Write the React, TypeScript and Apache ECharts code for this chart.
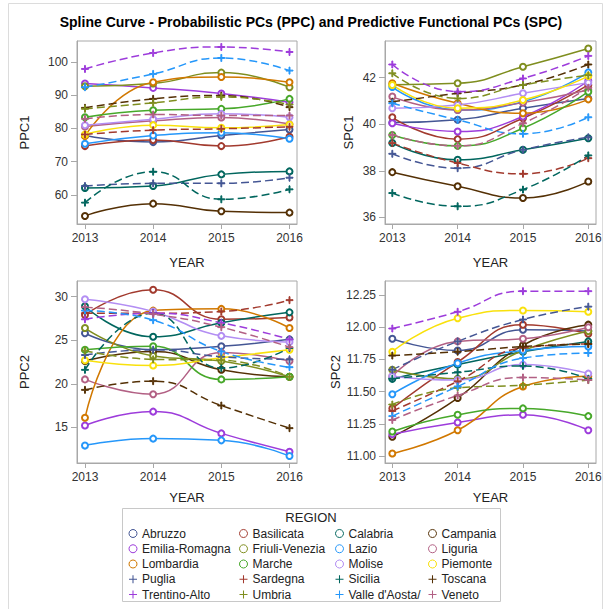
import React, { useEffect, useRef } from "react";
import * as echarts from "echarts";

const YEARS = [2013, 2014, 2015, 2016];

const REGIONS = [
  "Abruzzo", "Basilicata", "Calabria", "Campania",
  "Emilia-Romagna", "Friuli-Venezia", "Lazio", "Liguria",
  "Lombardia", "Marche", "Molise", "Piemonte",
  "Puglia", "Sardegna", "Sicilia", "Toscana",
  "Trentino-Alto", "Umbria", "Valle d'Aosta/", "Veneto",
];

const COLORS = [
  "#445694", "#A23A2E", "#01665E", "#543005", "#9D3CDB", "#7F8E1F",
  "#2597FA", "#B26084", "#D17800", "#47A82A", "#B38EF3", "#F9E10C",
];

// values per region (same order as REGIONS), years 2013..2016
const PPC1 = [
  [77.9, 75.9, 77.9, 79.7],
  [74.7, 76.5, 74.7, 77.5],
  [62.1, 62.7, 66.2, 67.1],
  [53.7, 57.4, 55.1, 54.7],
  [93.5, 92.2, 90.5, 87.9],
  [92.7, 93.5, 96.8, 92.4],
  [75.4, 77.9, 78.7, 76.9],
  [80.6, 82.3, 83.3, 81.3],
  [77.7, 93.9, 95.5, 93.9],
  [83.4, 85.5, 85.9, 88.9],
  [81.0, 82.8, 84.4, 83.4],
  [78.2, 81.0, 80.2, 81.2],
  [62.7, 63.5, 63.5, 65.2],
  [78.2, 79.5, 79.9, 80.5],
  [57.7, 67.0, 58.7, 61.7],
  [86.2, 88.9, 89.9, 86.4],
  [97.9, 102.7, 104.5, 103.0],
  [85.9, 87.7, 89.5, 87.2],
  [92.4, 96.4, 101.2, 97.4],
  [82.9, 84.2, 83.9, 83.9],
];

const SPC1 = [
  [40.07, 40.19, 40.69, 41.11],
  [40.3, 39.36, 40.26, 41.69],
  [39.19, 38.47, 38.9, 39.4],
  [37.94, 37.33, 36.83, 37.54],
  [40.04, 39.69, 40.33, 41.87],
  [41.7, 41.76, 42.47, 43.26],
  [41.6, 40.61, 40.97, 42.23],
  [41.19, 40.61, 40.93, 41.47],
  [41.76, 40.9, 40.47, 41.07],
  [39.54, 39.07, 39.83, 41.4],
  [40.69, 40.83, 41.33, 41.79],
  [41.69, 40.69, 41.04, 42.07],
  [38.73, 38.11, 38.9, 39.44],
  [39.19, 38.33, 37.87, 38.54],
  [37.04, 36.47, 37.19, 38.66],
  [40.97, 41.33, 41.69, 42.57],
  [42.57, 41.4, 41.97, 42.94],
  [42.19, 41.11, 41.69, 42.11],
  [40.9, 40.19, 39.59, 40.3],
  [39.54, 39.07, 40.04, 41.57],
];

const PPC2 = [
  [25.8, 23.9, 24.3, 25.1],
  [27.9, 30.8, 27.4, 27.6],
  [28.9, 25.4, 27.0, 28.2],
  [22.6, 23.7, 21.6, 20.8],
  [15.2, 16.8, 14.3, 12.2],
  [26.4, 23.2, 22.6, 20.8],
  [12.9, 13.7, 13.5, 11.7],
  [20.5, 18.8, 23.6, 22.6],
  [16.1, 28.4, 28.6, 26.4],
  [23.9, 24.3, 20.5, 20.8],
  [29.7, 28.3, 25.5, 24.8],
  [22.7, 22.1, 23.0, 23.9],
  [23.3, 23.9, 23.1, 22.8],
  [28.1, 28.1, 28.3, 29.6],
  [21.6, 28.1, 21.8, 24.1],
  [19.3, 20.3, 17.5, 14.9],
  [27.4, 28.1, 27.0, 25.1],
  [23.8, 22.8, 22.7, 20.8],
  [28.4, 27.3, 23.7, 21.9],
  [28.8, 28.0, 26.5, 24.2],
];

const SPC2 = [
  [11.91, 11.82, 11.98, 11.97],
  [11.37, 11.73, 12.02, 11.95],
  [11.6, 11.71, 11.81, 11.89],
  [11.15, 11.45, 11.86, 12.02],
  [11.17, 11.26, 11.32, 11.2],
  [11.67, 11.6, 11.82, 11.97],
  [11.48, 11.72, 11.82, 11.85],
  [11.62, 11.89, 11.91, 12.0],
  [11.02, 11.2, 11.54, 11.62],
  [11.19, 11.32, 11.37, 11.31],
  [11.62, 11.59, 11.71, 11.64],
  [11.81, 12.07, 12.13, 12.12],
  [11.67, 11.89, 12.06, 12.16],
  [11.35, 11.58, 11.84, 11.87],
  [11.6, 11.65, 11.7, 11.6],
  [11.78, 11.81, 11.85, 11.87],
  [11.99, 12.12, 12.28, 12.28],
  [11.4, 11.53, 11.55, 11.59],
  [11.31, 11.54, 11.76, 11.8],
  [11.28, 11.47, 11.61, 11.59],
];

const PPC1_TICKS = [60, 70, 80, 90, 100];
const SPC1_TICKS = [36, 38, 40, 42];
const PPC2_TICKS = [15, 20, 25, 30];
const SPC2_TICKS = [11, 11.25, 11.5, 11.75, 12, 12.25];

const TITLE = "Spline Curve - Probabilistic PCs (PPC) and Predictive Functional PCs (SPC)";

const PLUS = "path://M4.35,0L5.65,0L5.65,4.35L10,4.35L10,5.65L5.65,5.65L5.65,10L4.35,10L4.35,5.65L0,5.65L0,4.35L4.35,4.35Z";
const FONT = "'Liberation Sans', Arial, sans-serif";

export default function App() {
  const ref = useRef<HTMLDivElement>(null);
  useEffect(() => {
    if (!ref.current) return;
    const chart = echarts.init(ref.current, undefined, { renderer: "svg" });

    const panels = [
      { data: PPC1, name: "PPC1", ticks: PPC1_TICKS, ymin: 51.28, ymax: 106.3, left: 77, top: 41, width: 220, height: 183, xmin: 2012.883, xmax: 2016.11, gap: 46, xgap: 32, dec: 0 },
      { data: SPC1, name: "SPC1", ticks: SPC1_TICKS, ymin: 35.71, ymax: 43.58, left: 385, top: 41, width: 211, height: 183, xmin: 2012.888, xmax: 2016.118, gap: 30, xgap: 32, dec: 0 },
      { data: PPC2, name: "PPC2", ticks: PPC2_TICKS, ymin: 10.9, ymax: 31.8, left: 77, top: 281, width: 220, height: 182, xmin: 2012.883, xmax: 2016.11, gap: 46, xgap: 28, dec: 0 },
      { data: SPC2, name: "SPC2", ticks: SPC2_TICKS, ymin: 10.946, ymax: 12.359, left: 385, top: 281, width: 211, height: 182, xmin: 2012.888, xmax: 2016.118, gap: 40, xgap: 28, dec: 2 },
    ];

    const axisColor = "#a8a8a8";
    const textColor = "#333";

    const grid = panels.map((p) => ({
      left: p.left, top: p.top, width: p.width, height: p.height,
      show: true, borderColor: axisColor, borderWidth: 1, backgroundColor: "#fff",
    }));

    const xAxis = panels.map((p, i) => ({
      type: "value", gridIndex: i, min: p.xmin, max: p.xmax,
      name: "YEAR", nameLocation: "middle", nameGap: p.xgap,
      nameTextStyle: { fontFamily: FONT, fontSize: 13, color: "#222" },
      axisLine: { show: true, onZero: false, lineStyle: { color: axisColor } },
      axisTick: { show: true, length: 5, customValues: YEARS, lineStyle: { color: axisColor } },
      axisLabel: { customValues: YEARS, fontFamily: FONT, fontSize: 12, color: textColor, margin: 8, formatter: (v: number) => String(v) },
      splitLine: { show: false },
    }));

    const yAxis = panels.map((p, i) => ({
      type: "value", gridIndex: i, min: p.ymin, max: p.ymax,
      name: p.name, nameLocation: "middle", nameGap: p.gap, nameRotate: 90,
      nameTextStyle: { fontFamily: FONT, fontSize: 13, color: "#222" },
      axisLine: { show: true, onZero: false, lineStyle: { color: axisColor } },
      axisTick: { show: true, length: 6, customValues: p.ticks, lineStyle: { color: axisColor } },
      axisLabel: { customValues: p.ticks, fontFamily: FONT, fontSize: 12, color: textColor, margin: 9, formatter: (v: number) => v.toFixed(p.dec) },
      splitLine: { show: false },
    }));

    const series: any[] = [];
    panels.forEach((p, pi) => {
      REGIONS.forEach((r, ri) => {
        const color = COLORS[ri % 12];
        const dashed = ri >= 12;
        series.push({
          type: "line", name: r, xAxisIndex: pi, yAxisIndex: pi,
          data: YEARS.map((y, k) => [y, p.data[ri][k]]),
          smooth: 0.5,
          symbol: dashed ? PLUS : "emptyCircle",
          symbolSize: dashed ? 7 : 6,
          showSymbol: true,
          color,
          itemStyle: { color, borderColor: color, borderWidth: 1 },
          lineStyle: { color, width: 1.5, type: dashed ? [8, 4] : "solid" },
          emphasis: { disabled: true },
          z: 2,
        });
      });
    });

    const colLefts = [128.5, 239, 335, 428];
    const legend = colLefts.map((left, c) => ({
      orient: "vertical", left, top: 526, height: 82, padding: 0,
      itemWidth: 8, itemHeight: 8, itemGap: 0.25,
      selectedMode: false,
      textStyle: { fontFamily: FONT, fontSize: 12, color: "#222", lineHeight: 15 },
      data: [0, 1, 2, 3, 4].map((row) => {
        const ri = row * 4 + c;
        const color = COLORS[ri % 12];
        const dashed = ri >= 12;
        return dashed
          ? { name: REGIONS[ri], icon: PLUS, itemStyle: { color, borderWidth: 0 } }
          : { name: REGIONS[ri], icon: "circle", itemStyle: { color: "rgba(0,0,0,0)", borderColor: color, borderWidth: 1 } };
      }),
    }));

    chart.setOption({
      animation: false,
      backgroundColor: "#fff",
      grid, xAxis, yAxis, series, legend,
      graphic: [
        { type: "rect", shape: { x: 8.5, y: 3.5, width: 594, height: 610 }, style: { fill: "none", stroke: "#dcdcdc", lineWidth: 1 }, z: -1 },
        { type: "text", x: 311, y: 22, style: { text: TITLE, fontFamily: FONT, fontSize: 14, fontWeight: "bold", fill: "#000", textAlign: "center", textVerticalAlign: "middle" } },
        { type: "rect", shape: { x: 122.5, y: 508.5, width: 378, height: 93 }, style: { fill: "none", stroke: "#c8c8c8", lineWidth: 1 } },
        { type: "text", x: 311, y: 517, style: { text: "REGION", fontFamily: FONT, fontSize: 13, fill: "#222", textAlign: "center", textVerticalAlign: "middle" } },
      ],
    });
    return () => chart.dispose();
  }, []);
  return <div ref={ref} style={{ position: "absolute", left: 0, top: 0, width: 605, height: 609 }} />;
}
